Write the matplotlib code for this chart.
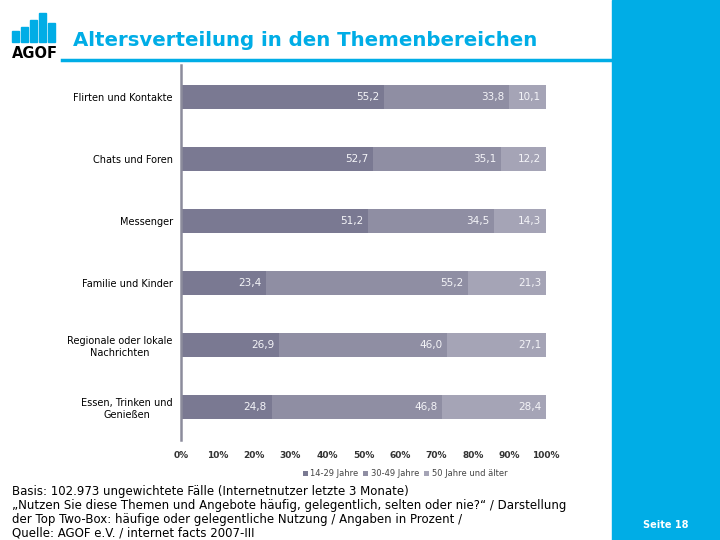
import matplotlib
matplotlib.use("Agg")
import matplotlib.pyplot as plt
import numpy as np
from matplotlib.patches import Rectangle

categories = [
    "Flirten und Kontakte",
    "Chats und Foren",
    "Messenger",
    "Familie und Kinder",
    "Regionale oder lokale\nNachrichten",
    "Essen, Trinken und\nGenießen",
]
age_14_29 = [55.2, 52.7, 51.2, 23.4, 26.9, 24.8]
age_30_49 = [33.8, 35.1, 34.5, 55.2, 46.0, 46.8]
age_50_plus = [10.1, 12.2, 14.3, 21.3, 27.1, 28.4]
series_labels = ["14-29 Jahre", "30-49 Jahre", "50 Jahre und älter"]
tick_labels = ["0%", "10%", "20%", "30%", "40%", "50%", "60%", "70%", "80%", "90%", "100%"]

BLUE = "#00ade6"
colors = ["#7a7992", "#8f8ea3", "#a5a4b6"]

W, H = 720, 540
fig = plt.figure(figsize=(7.2, 5.4), dpi=100)


def fx(px):
    return px / W


def fy(py):
    return 1 - py / H


# right blue panel and header rule
fig.patches.append(Rectangle((fx(612), 0), fx(108), 1, transform=fig.transFigure,
                             color=BLUE, zorder=0))
fig.lines.append(plt.Line2D([fx(62), fx(612)], [fy(60), fy(60)],
                            transform=fig.transFigure, color=BLUE, lw=2.5))

# AGOF logo bars
logo_x = [12, 21, 30, 39, 48]
logo_h = [11, 15, 22, 29, 19]
for x, h in zip(logo_x, logo_h):
    fig.patches.append(Rectangle((fx(x), fy(42)), fx(7), h / H,
                                 transform=fig.transFigure, color=BLUE))
fig.text(fx(35), fy(53), "AGOF", ha="center", va="center", fontsize=10.5,
         fontweight="bold", color="black")
fig.text(fx(73), fy(40), "Altersverteilung in den Themenbereichen", ha="left",
         va="center", fontsize=14.2, fontweight="bold", color=BLUE)

# chart
ax = fig.add_axes([fx(181), fy(440), fx(546) - fx(181), fy(65) - fy(440)])
data = np.array([age_14_29, age_30_49, age_50_plus])
totals = data.sum(axis=0)
shares = data / totals * 100
y = np.arange(len(categories))
left = np.zeros(len(categories))
for i in range(3):
    ax.barh(y, shares[i], left=left, height=0.39, color=colors[i],
            label=series_labels[i])
    for yi, (l, s, v) in enumerate(zip(left, shares[i], data[i])):
        ax.text(l + s - 1.3, yi, f"{v:.1f}".replace(".", ","), ha="right",
                va="center", fontsize=7.5, color="#f4f4f8")
    left += shares[i]

ax.set_xlim(0, 100)
ax.set_ylim(5.53, -0.52)
ax.set_yticks(y)
ax.set_yticklabels(categories, fontsize=7, ha="right")
for lbl in ax.get_yticklabels():
    lbl.set_multialignment("center")
ax.tick_params(axis="y", length=0, pad=6)
ax.set_xticks(np.arange(0, 101, 10))
ax.set_xticklabels(tick_labels, fontsize=6.5, fontweight="bold", color="#333333")
ax.tick_params(axis="x", length=0, pad=8)
for side in ["top", "right", "bottom"]:
    ax.spines[side].set_visible(False)
ax.spines["left"].set_color("#8c8c9c")
ax.spines["left"].set_linewidth(1.8)

fig.legend(loc="center", bbox_to_anchor=(fx(405), fy(474)), ncol=3,
           frameon=False, fontsize=6, handlelength=0.6, handleheight=0.6,
           handletextpad=0.3, columnspacing=0.6, labelcolor="#444444")

footer = (
    "Basis: 102.973 ungewichtete Fälle (Internetnutzer letzte 3 Monate)\n"
    "„Nutzen Sie diese Themen und Angebote häufig, gelegentlich, selten oder nie?“ / Darstellung\n"
    "der Top Two-Box: häufige oder gelegentliche Nutzung / Angaben in Prozent /\n"
    "Quelle: AGOF e.V. / internet facts 2007-III"
)
fig.text(fx(12), fy(485), footer, ha="left", va="top", fontsize=8.5,
         linespacing=1.1, color="black")
fig.text(fx(666), fy(525), "Seite 18", ha="center", va="center", fontsize=7,
         fontweight="bold", color="white")

fig.savefig("out.png", dpi=100)
